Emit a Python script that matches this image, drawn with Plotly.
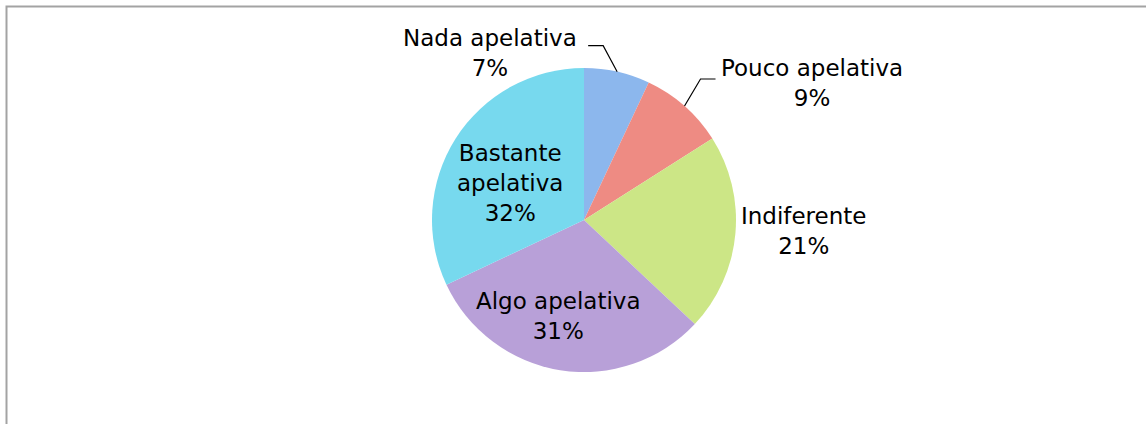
import math
import plotly.graph_objects as go

# ---- data ----
categories = ["Nada apelativa", "Pouco apelativa", "Indiferente", "Algo apelativa", "Bastante apelativa"]
values = [7, 9, 21, 31, 32]
colors = ["#8cb7ed", "#ee8b83", "#cce686", "#b8a0d8", "#77d9ee"]

# ---- layout constants (pixels) ----
W, H = 1146, 424
CX, CY, R = 584, 220, 152
FONT = dict(family="DejaVu Sans", size=23, color="#000000")


def px(x, y):
    return x / W, 1 - y / H


fig = go.Figure(
    go.Pie(
        labels=categories,
        values=values,
        sort=False,
        direction="clockwise",
        rotation=0,
        marker=dict(colors=colors, line=dict(width=0)),
        textinfo="none",
        hoverinfo="label+percent",
        showlegend=False,
        domain=dict(x=[(CX - R) / W, (CX + R) / W], y=[1 - (CY + R) / H, 1 - (CY - R) / H]),
    )
)

# mid angles of slices (clockwise from 12 o'clock)
total = sum(values)
cum = 0
mids = []
for v in values:
    mids.append((cum + v / 2) / total * 2 * math.pi)
    cum += v


def edge(i):
    a = mids[i]
    return CX + R * math.sin(a), CY - R * math.cos(a)


shapes = []
# leader lines for the two small slices
leaders = {0: (-14, -26, -15), 1: (16, -27, 15)}
for i, (dx, dy, hx) in leaders.items():
    sx, sy = edge(i)
    ex, ey = sx + dx, sy + dy
    fx, fy = ex + hx, ey
    p = [px(sx, sy), px(ex, ey), px(fx, fy)]
    path = "M {} {} L {} {} L {} {}".format(p[0][0], p[0][1], p[1][0], p[1][1], p[2][0], p[2][1])
    shapes.append(dict(type="path", xref="paper", yref="paper", path=path,
                       line=dict(color="#000000", width=1.2)))

# chart frame
shapes.append(dict(type="rect", xref="paper", yref="paper",
                   x0=6.5 / W, x1=1.05, y0=-0.05, y1=1 - 6.5 / H,
                   line=dict(color="#a3a3a3", width=2), fillcolor="rgba(0,0,0,0)"))

# label placements: (x, y, xanchor, wrap)
label_pos = [
    (579, 53, "right", False),
    (719, 83, "left", False),
    (803, 231, "center", False),
    (558, 316, "center", False),
    (510, 183, "center", True),
]

annotations = []
for cat, v, (lx, ly, xa, wrap) in zip(categories, values, label_pos):
    name = cat.replace(" ", "<br>") if wrap else cat
    x, y = px(lx, ly)
    annotations.append(dict(xref="paper", yref="paper", x=x, y=y, xanchor=xa, yanchor="middle",
                            text=f"{name}<br>{v}%", showarrow=False, align="center", font=FONT))

fig.update_layout(
    width=W, height=H,
    margin=dict(l=0, r=0, t=0, b=0),
    paper_bgcolor="#ffffff",
    plot_bgcolor="#ffffff",
    shapes=shapes,
    annotations=annotations,
)

fig.write_html("out.html",
               config={"displayModeBar": False},
               post_script="document.body.style.margin='0';document.body.style.overflow='hidden';")
